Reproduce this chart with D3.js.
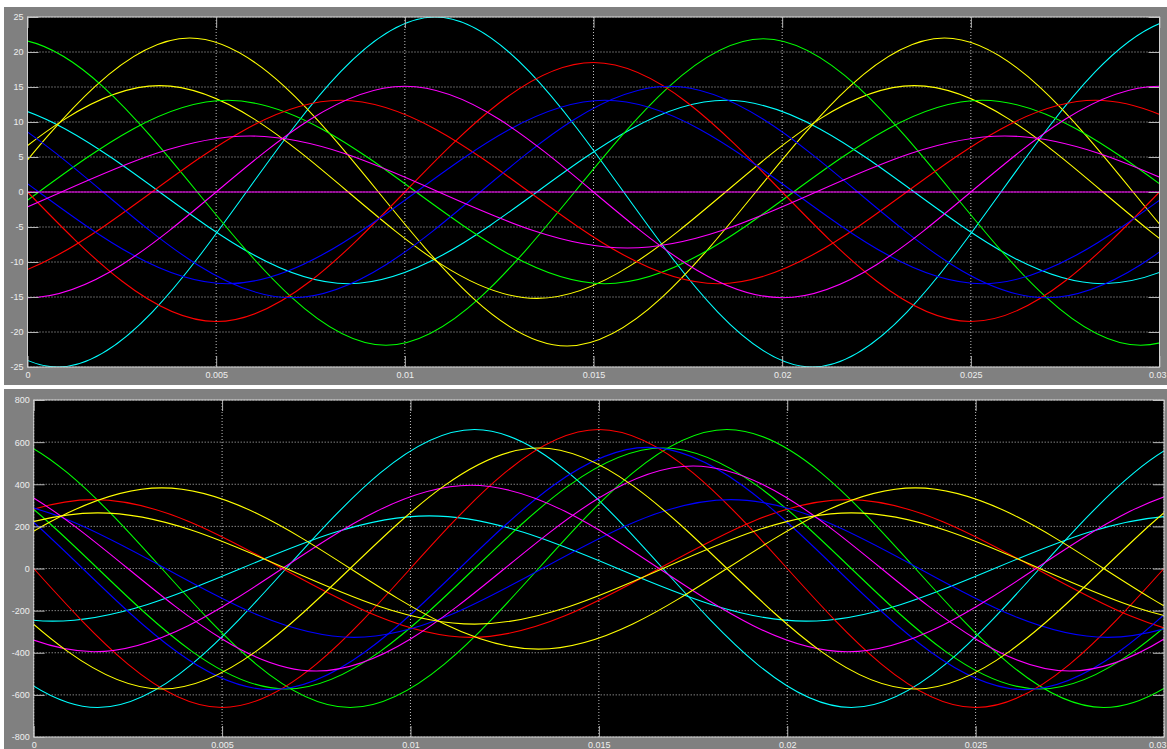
<!DOCTYPE html>
<html>
<head>
<meta charset="utf-8">
<script src="https://cdn.jsdelivr.net/npm/d3@7"></script>
<style>
  body { margin: 0; background: #fff; }
  svg { display: block; }
  .tick text { font-family: "Liberation Sans", Arial, sans-serif; font-size: 9px; fill: #eeeeee; }
</style>
</head>
<body>
<svg id="scope" width="1167" height="749"></svg>
<script>
// Time ticks (seconds)
const xTicks = [0, 0.005, 0.01, 0.015, 0.02, 0.025, 0.03];
const topYTicks = [-25, -20, -15, -10, -5, 0, 5, 10, 15, 20, 25];
const bottomYTicks = [-800, -600, -400, -200, 0, 200, 400, 600, 800];

// Key points: [time in ms, value] at zero crossings and extrema
const topColors = ["#00ffff", "#00ffff", "#ffff00", "#ffff00", "#00ff00", "#00ff00",
                   "#ff0000", "#ff0000", "#0000ff", "#0000ff", "#ff00ff", "#ff00ff", "#ff00ff"];
const topKeys = [
  [[-4.2, 0], [0.8, -25], [5.8, 0], [10.8, 25], [15.8, 0], [20.8, -25], [25.8, 0], [30.8, 25], [35.8, 0]],
  [[-6.5, 0], [-1.5, 13.1], [3.5, 0], [8.5, -13.1], [13.5, 0], [18.5, 13.1], [23.5, 0], [28.5, -13.1], [33.5, 0]],
  [[-0.7, 0], [4.3, 22], [9.3, 0], [14.3, -22], [19.3, 0], [24.3, 22], [29.3, 0], [34.3, -22], [39.3, 0]],
  [[-1.5, 0], [3.5, 15.2], [8.5, 0], [13.5, -15.2], [18.5, 0], [23.5, 15.2], [28.5, 0], [33.5, -15.2], [38.5, 0]],
  [[-5.5, 0], [-0.5, 21.9], [4.5, 0], [9.5, -21.9], [14.5, 0], [19.5, 21.9], [24.5, 0], [29.5, -21.9], [34.5, 0]],
  [[-9.7, 0], [-4.7, -13.1], [0.3, 0], [5.3, 13.1], [10.3, 0], [15.3, -13.1], [20.3, 0], [25.3, 13.1], [30.3, 0]],
  [[0, 0], [5, -18.5], [10, 0], [15, 18.5], [20, 0], [25, -18.5], [30, 0]],
  [[-6.7, 0], [-1.7, -13.1], [3.3, 0], [8.3, 13.1], [13.3, 0], [18.3, -13.1], [23.3, 0], [28.3, 13.1], [33.3, 0]],
  [[-8, 0], [-3, 15.1], [2, 0], [7, -15.1], [12, 0], [17, 15.1], [22, 0], [27, -15.1], [32, 0]],
  [[-9.7, 0], [-4.7, 13.1], [0.3, 0], [5.3, -13.1], [10.3, 0], [15.3, 13.1], [20.3, 0], [25.3, -13.1], [30.3, 0]],
  [[-5, 0], [0, -15.1], [5, 0], [10, 15.1], [15, 0], [20, -15.1], [25, 0], [30, 15.1], [35, 0]],
  [[-9.1, 0], [-4.1, -8], [0.9, 0], [5.9, 8], [10.9, 0], [15.9, -8], [20.9, 0], [25.9, 8], [30.9, 0]],
  [[0, 0], [30, 0]]
];

const bottomColors = ["#00ffff", "#00ffff", "#00ff00", "#00ff00", "#ff0000", "#ff0000", "#0000ff",
                      "#0000ff", "#ff00ff", "#ff00ff", "#ffff00", "#ffff00", "#ffff00"];
const bottomKeys = [
  [[-3.3, 0], [1.7, -660], [6.7, 0], [11.7, 660], [16.7, 0], [21.7, -660], [26.7, 0], [31.7, 660], [36.7, 0]],
  [[-4.5, 0], [0.5, -250], [5.5, 0], [10.5, 250], [15.5, 0], [20.5, -250], [25.5, 0], [30.5, 250], [35.5, 0]],
  [[-6.6, 0], [-1.6, 660], [3.4, 0], [8.4, -660], [13.4, 0], [18.4, 660], [23.4, 0], [28.4, -660], [33.4, 0]],
  [[-8.3, 0], [-3.3, 572], [1.7, 0], [6.7, -572], [11.7, 0], [16.7, 572], [21.7, 0], [26.7, -572], [31.7, 0]],
  [[0, 0], [5, -660], [10, 0], [15, 660], [20, 0], [25, -660], [30, 0]],
  [[-3.4, 0], [1.6, 327], [6.6, 0], [11.6, -327], [16.6, 0], [21.6, 327], [26.6, 0], [31.6, -327], [36.6, 0]],
  [[-8.7, 0], [-3.7, 575], [1.3, 0], [6.3, -575], [11.3, 0], [16.3, 575], [21.3, 0], [26.3, -575], [31.3, 0]],
  [[-6.5, 0], [-1.5, 327], [3.5, 0], [8.5, -327], [13.5, 0], [18.5, 327], [23.5, 0], [28.5, -327], [33.5, 0]],
  [[-7.5, 0], [-2.5, 487], [2.5, 0], [7.5, -487], [12.5, 0], [17.5, 487], [22.5, 0], [27.5, -487], [32.5, 0]],
  [[-3.4, 0], [1.6, -395], [6.6, 0], [11.6, 395], [16.6, 0], [21.6, -395], [26.6, 0], [31.6, 395], [36.6, 0]],
  [[-1.6, 0], [3.4, 383], [8.4, 0], [13.4, -383], [18.4, 0], [23.4, 383], [28.4, 0], [33.4, -383], [38.4, 0]],
  [[-3.3, 0], [1.7, 264], [6.7, 0], [11.7, -264], [16.7, 0], [21.7, 264], [26.7, 0], [31.7, -264], [36.7, 0]],
  [[-1.6, 0], [3.4, -572], [8.4, 0], [13.4, 572], [18.4, 0], [23.4, -572], [28.4, 0], [33.4, 572], [38.4, 0]]
];

const svg = d3.select("#scope");
const pageWidth = 1167;

const panels = [
  { id: "top", box: [4, 7, 1163, 378], plot: { left: 27.5, top: 17, right: 1159.5, bottom: 367 },
    yDomain: [-25, 25], yTicks: topYTicks, keys: topKeys, colors: topColors },
  { id: "bottom", box: [4, 389, 1163, 360], plot: { left: 33.7, top: 400, right: 1164, bottom: 737 },
    yDomain: [-800, 800], yTicks: bottomYTicks, keys: bottomKeys, colors: bottomColors }
];

const tickLen = 11;

panels.forEach(p => {
  const { left, top, right, bottom } = p.plot;
  const w = right - left, h = bottom - top;

  // grey scope frame
  svg.append("rect")
    .attr("x", p.box[0]).attr("y", p.box[1])
    .attr("width", p.box[2]).attr("height", p.box[3])
    .attr("fill", "#808080");

  const x = d3.scaleLinear().domain([0, 0.03]).range([0, w]);
  const y = d3.scaleLinear().domain(p.yDomain).range([h, 0]);

  const g = svg.append("g").attr("transform", `translate(${left},${top})`);

  g.append("rect").attr("width", w).attr("height", h).attr("fill", "#000");

  // dotted grid
  g.append("g").selectAll("line").data(xTicks).join("line")
    .attr("x1", d => x(d)).attr("x2", d => x(d))
    .attr("y1", 0).attr("y2", h)
    .attr("stroke", "#bdbdbd").attr("stroke-dasharray", "1,2");
  g.append("g").selectAll("line").data(p.yTicks).join("line")
    .attr("x1", 0).attr("x2", w)
    .attr("y1", d => y(d)).attr("y2", d => y(d))
    .attr("stroke", "#bdbdbd").attr("stroke-dasharray", "1,2");

  // traces
  g.append("clipPath").attr("id", `clip-${p.id}`)
    .append("rect").attr("width", w).attr("height", h);

  const line = d3.line()
    .x(d => x(d[0] / 1000))
    .y(d => y(d[1]))
    .curve(d3.curveNatural);

  g.append("g").attr("clip-path", `url(#clip-${p.id})`)
    .selectAll("path").data(p.keys).join("path")
    .attr("d", line)
    .attr("fill", "none")
    .attr("stroke", (d, i) => p.colors[i])
    .attr("stroke-width", 1.1);

  // axes with inward ticks on all four sides
  const fmt = d => String(d);
  const styleAxis = sel => {
    sel.select(".domain").remove();
    sel.selectAll(".tick line").attr("stroke", "#b4b4b4");
  };

  const xAxis = g.append("g").attr("transform", `translate(0,${h})`)
    .call(d3.axisBottom(x).tickValues(xTicks).tickFormat(fmt).tickSize(-tickLen).tickPadding(5))
    .call(styleAxis);
  g.append("g")
    .call(d3.axisTop(x).tickValues(xTicks).tickFormat("").tickSize(-tickLen))
    .call(styleAxis);
  g.append("g")
    .call(d3.axisLeft(y).tickValues(p.yTicks).tickFormat(fmt).tickSize(-tickLen).tickPadding(4))
    .call(styleAxis);
  g.append("g").attr("transform", `translate(${w},0)`)
    .call(d3.axisRight(y).tickValues(p.yTicks).tickFormat("").tickSize(-tickLen))
    .call(styleAxis);

  g.selectAll(".tick text").attr("fill", "#eeeeee");

  // last time label sits at the page edge: pull it inside
  xAxis.selectAll(".tick text")
    .filter(d => d === 0.03)
    .attr("text-anchor", "end")
    .attr("x", pageWidth - 1 - left - x(0.03));

  // axes box
  g.append("rect").attr("width", w).attr("height", h)
    .attr("fill", "none").attr("stroke", "#d0d0d0");
});
</script>
</body>
</html>
